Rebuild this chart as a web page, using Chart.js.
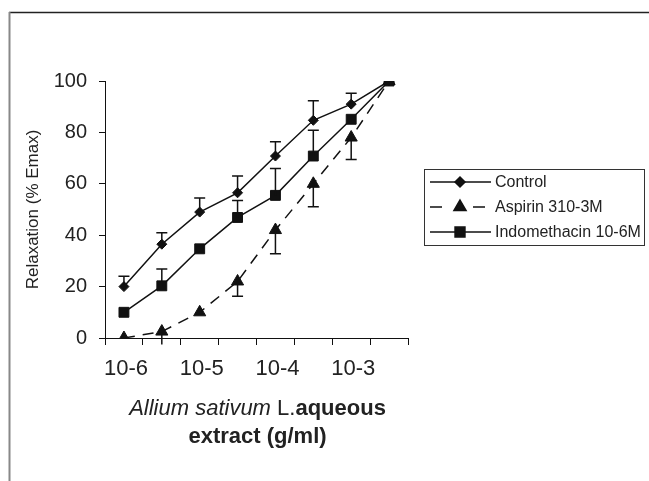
<!DOCTYPE html>
<html>
<head>
<meta charset="utf-8">
<script src="https://cdn.jsdelivr.net/npm/chart.js@4/dist/chart.umd.min.js"></script>
<style>
html,body{margin:0;padding:0;background:#fff;}
#wrap{position:relative;width:649px;height:481px;}
canvas{display:block;}
</style>
</head>
<body>
<div id="wrap"><canvas id="c" width="649" height="481"></canvas></div>
<script>
// ---- data ----
const categories = ['10-6', '', '10-5', '', '10-4', '', '10-3', ''];
const seriesNames = ['Control', 'Aspirin 310-3M', 'Indomethacin 10-6M'];
const controlValues = [20, 36.5, 49, 56.5, 70.8, 84.7, 91, 100];
const aspirinValues = [0, 2.5, 10, 22, 42, 60, 78, 100];
const indomethacinValues = [10, 20.3, 34.7, 46.9, 55.5, 70.8, 85.1, 100];
const controlErrUpper = [24, 41, 54.5, 63, 76.4, 92.3, 95.2, null];
const aspirinErrLower = [null, -2.5, null, 16.2, 32.8, 51.1, 69.5, null];
const indomethacinErrUpper = [null, 26.8, null, 53.5, 66, 80.8, null, null];
const yTicks = [0, 20, 40, 60, 80, 100];
const yTitle = 'Relaxation (% Emax)';
const xTitleLine1 = [['Allium sativum', 'italic'], [' L.', 'normal'], ['aqueous', 'bold']];
const xTitleLine2 = [['extract (g/ml)', 'bold']];

const FONT = '"Liberation Sans", Arial, sans-serif';
const INK = '#111';
Chart.defaults.font.family = FONT;
Chart.defaults.color = '#222';

const errorBars = {
  id: 'errorBars',
  afterDatasetsDraw(chart) {
    const ctx = chart.ctx;
    const x = chart.scales.x, y = chart.scales.y;
    const sets = [controlErrUpper, aspirinErrLower, indomethacinErrUpper];
    const vals = [controlValues, aspirinValues, indomethacinValues];
    ctx.save();
    ctx.strokeStyle = INK;
    ctx.lineWidth = 1.5;
    sets.forEach((errs, si) => {
      errs.forEach((e, i) => {
        if (e === null) return;
        const px = x.getPixelForValue(i);
        const p0 = y.getPixelForValue(vals[si][i]);
        const p1 = y.getPixelForValue(e);
        ctx.beginPath();
        ctx.moveTo(px, p0); ctx.lineTo(px, p1);
        if (e >= 0) { ctx.moveTo(px - 5.5, p1); ctx.lineTo(px + 5.5, p1); }
        ctx.stroke();
      });
    });
    ctx.restore();
  }
};

const decorations = {
  id: 'decorations',
  beforeDraw(chart) {
    const ctx = chart.ctx;
    ctx.save();
    // frame
    ctx.strokeStyle = '#222'; ctx.lineWidth = 1.3;
    ctx.beginPath(); ctx.moveTo(9, 12.5); ctx.lineTo(649, 12.5); ctx.stroke();
    ctx.strokeStyle = '#888'; ctx.lineWidth = 2;
    ctx.beginPath(); ctx.moveTo(9.5, 12); ctx.lineTo(9.5, 481); ctx.stroke();
    ctx.restore();
  },
  afterDraw(chart) {
    const ctx = chart.ctx;
    const ca = chart.chartArea;
    ctx.save();
    // x axis title (mixed styles)
    const cx = (ca.left + ca.right) / 2 + 1;
    const drawLine = (parts, yc, size) => {
      let total = 0;
      const widths = parts.map(([t, st]) => {
        ctx.font = (st === 'italic' ? 'italic ' : st === 'bold' ? 'bold ' : '') + size + 'px ' + FONT;
        const w = ctx.measureText(t).width; total += w; return w;
      });
      let xx = cx - total / 2;
      ctx.fillStyle = '#222';
      ctx.textBaseline = 'middle';
      ctx.textAlign = 'left';
      parts.forEach(([t, st], k) => {
        ctx.font = (st === 'italic' ? 'italic ' : st === 'bold' ? 'bold ' : '') + size + 'px ' + FONT;
        ctx.fillText(t, xx, yc);
        xx += widths[k];
      });
    };
    drawLine(xTitleLine1, 409, 22);
    drawLine(xTitleLine2, 437, 22);

    // legend
    ctx.strokeStyle = '#333'; ctx.lineWidth = 1;
    ctx.strokeRect(424.5, 169.5, 220, 76);
    const rows = [182, 207, 232];
    const styles = [
      {segs: [[430, 491]], shape: 'rectRot', r: 5},
      {segs: [[430, 442], [473, 485]], shape: 'triangle', r: 7},
      {segs: [[430, 491]], shape: 'rect', r: 7}
    ];
    rows.forEach((ry, k) => {
      ctx.strokeStyle = INK; ctx.lineWidth = 1.5;
      ctx.beginPath();
      styles[k].segs.forEach(([a, b]) => { ctx.moveTo(a, ry); ctx.lineTo(b, ry); });
      ctx.stroke();
      ctx.fillStyle = INK;
      Chart.helpers.drawPoint(ctx, {pointStyle: styles[k].shape, radius: styles[k].r, borderWidth: 1}, 460, ry);
      ctx.fillStyle = '#222';
      ctx.font = '16px ' + FONT;
      ctx.textBaseline = 'middle';
      ctx.textAlign = 'left';
      ctx.fillText(seriesNames[k], 495, ry + 1);
    });
    ctx.restore();
  }
};

new Chart(document.getElementById('c'), {
  type: 'line',
  data: {
    labels: categories,
    datasets: [
      {label: seriesNames[0], data: controlValues, borderColor: INK, backgroundColor: INK,
       borderWidth: 1.5, pointStyle: 'rectRot', pointRadius: 5, pointBorderWidth: 1, order: 1},
      {label: seriesNames[1], data: aspirinValues, borderColor: INK, backgroundColor: INK,
       borderWidth: 1.5, borderDash: [11, 8], pointStyle: 'triangle', pointRadius: 7, pointBorderWidth: 1, order: 2},
      {label: seriesNames[2], data: indomethacinValues, borderColor: INK, backgroundColor: INK,
       borderWidth: 1.5, pointStyle: 'rect', pointRadius: 7, pointBorderWidth: 1, order: 0}
    ]
  },
  options: {
    responsive: false,
    animation: false,
    events: [],
    layout: {padding: {left: 0, right: 241, top: 81, bottom: 0}},
    plugins: {legend: {display: false}, tooltip: {enabled: false}},
    elements: {line: {tension: 0}},
    scales: {
      x: {
        type: 'category',
        offset: true,
        grid: {offset: true, drawOnChartArea: false, drawTicks: true, tickLength: 7, color: INK, lineWidth: 1},
        border: {color: INK, width: 1},
        ticks: {autoSkip: false, maxRotation: 0, padding: 11, labelOffset: 2, color: '#222', font: {size: 22}},
        afterFit: s => { s.height = 143; }
      },
      y: {
        min: 0, max: 100,
        afterBuildTicks: s => { s.ticks = yTicks.map(v => ({value: v})); },
        grid: {drawOnChartArea: false, drawTicks: true, tickLength: 6, color: INK, lineWidth: 1},
        border: {color: INK, width: 1},
        ticks: {padding: 12, color: '#222', font: {size: 20}},
        title: {display: true, text: yTitle, color: '#222', font: {size: 17}, padding: {top: 23, bottom: 0}},
        afterFit: s => { s.width = 105; }
      }
    }
  },
  plugins: [decorations, errorBars]
});
</script>
</body>
</html>
